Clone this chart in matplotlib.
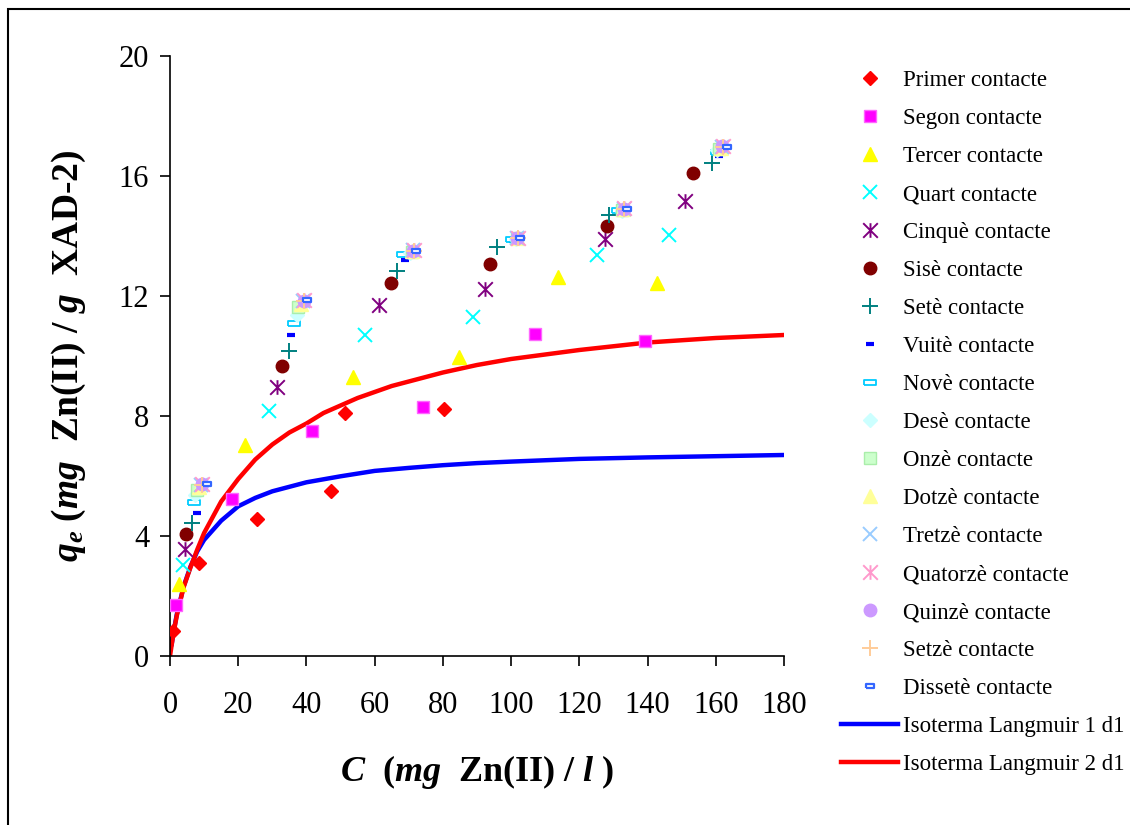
import matplotlib
matplotlib.use('Agg')
import matplotlib.pyplot as plt
from matplotlib.patches import Rectangle
from matplotlib.path import Path

plt.rcParams['font.family'] = ['Liberation Serif', 'DejaVu Serif']
plt.rcParams['mathtext.fontset'] = 'custom'
plt.rcParams['mathtext.rm'] = 'Liberation Serif'
plt.rcParams['mathtext.it'] = 'Liberation Serif:italic'
plt.rcParams['mathtext.bf'] = 'Liberation Serif:bold'
plt.rcParams['mathtext.bfit'] = 'Liberation Serif:italic:bold'

# punts experimentals (C en mg/l, q en mg/g)
primer_c = [0.8, 8.6, 25.5, 47.3, 51.4, 80.3]
primer_q = [0.84, 3.11, 4.58, 5.5, 8.09, 8.23]
segon_c = [1.8, 18.3, 41.7, 74.1, 107.0, 139.3]
segon_q = [1.69, 5.24, 7.51, 8.31, 10.73, 10.5]
tercer_c = [2.7, 22.0, 53.6, 84.8, 113.6, 142.9]
tercer_q = [2.4, 7.03, 9.31, 9.98, 12.62, 12.42]
quart_c = [3.9, 29.1, 57.3, 88.9, 125.3, 146.3]
quart_q = [3.02, 8.18, 10.7, 11.29, 13.37, 14.03]
cinque_c = [4.5, 31.5, 61.4, 92.4, 127.6, 151.1]
cinque_q = [3.56, 8.98, 11.7, 12.22, 13.91, 15.17]
sise_c = [4.7, 32.8, 64.7, 93.8, 128.1, 153.2]
sise_q = [4.07, 9.67, 12.42, 13.07, 14.33, 16.09]
sete_c = [6.4, 35.0, 66.6, 96.0, 128.8, 158.8]
sete_q = [4.42, 10.18, 12.84, 13.64, 14.7, 16.44]
vuite_c = [7.9, 35.4, 69.0, 100.5, 131.5, 160.8]
vuite_q = [4.76, 10.71, 13.19, 13.85, 14.85, 16.67]
nove_c = [6.9, 36.4, 68.4, 100.2, 131.2, 160.3]
nove_q = [5.12, 11.11, 13.39, 13.9, 14.87, 16.8]
dese_c = [7.4, 37.1, 70.5, 101.5, 132.5, 160.3]
dese_q = [5.37, 11.37, 13.45, 13.9, 14.85, 16.87]
onze_c = [8.0, 37.6, 70.8, 101.6, 132.6, 160.8]
onze_q = [5.53, 11.64, 13.48, 13.92, 14.88, 16.9]
dotze_c = [8.6, 38.3, 71.0, 101.7, 132.8, 161.5]
dotze_q = [5.62, 11.75, 13.5, 13.93, 14.9, 16.95]
tretze_c = [9.2, 39.0, 71.2, 101.8, 133.0, 161.8]
tretze_q = [5.7, 11.82, 13.52, 13.95, 14.9, 16.98]
quatorze_c = [9.4, 39.3, 71.4, 101.9, 133.1, 162.0]
quatorze_q = [5.75, 11.87, 13.53, 13.95, 14.92, 17.0]
quinze_c = [9.3, 39.2, 71.3, 101.8, 133.0, 161.7]
quinze_q = [5.72, 11.85, 13.5, 13.93, 14.9, 17.0]
setze_c = [9.5, 39.4, 71.5, 102.0, 133.2, 162.1]
setze_q = [5.7, 11.85, 13.5, 13.93, 14.9, 16.98]
dissete_c = [10.8, 40.1, 72.1, 102.6, 133.9, 163.2]
dissete_q = [5.72, 11.87, 13.51, 13.92, 14.89, 16.98]

# isotermes llegides del grafic
lang1_c = [0.5, 1, 2, 4, 6, 8, 10, 15, 20, 25, 30, 40, 50, 60, 70, 80, 90,
           100, 120, 140, 160, 180]
lang1_q = [0.4, 0.77, 1.39, 2.32, 2.98, 3.49, 3.87, 4.51, 4.99, 5.27, 5.49,
           5.79, 5.99, 6.17, 6.27, 6.36, 6.43, 6.48, 6.57, 6.62, 6.66, 6.7]
lang2_c = [0, 1, 2, 4, 6, 8, 10, 15, 20, 25, 30, 35, 40, 45, 50, 55, 60, 65,
           70, 80, 90, 100, 110, 120, 140, 160, 180]
lang2_q = [0, 0.75, 1.35, 2.3, 2.95, 3.55, 4.1, 5.15, 5.9, 6.55, 7.05, 7.45,
           7.75, 8.1, 8.35, 8.6, 8.8, 9.0, 9.15, 9.45, 9.7, 9.9, 10.05, 10.2,
           10.45, 10.6, 10.7]

labels = ['Primer contacte', 'Segon contacte', 'Tercer contacte', 'Quart contacte',
          'Cinquè contacte', 'Sisè contacte', 'Setè contacte', 'Vuitè contacte',
          'Novè contacte', 'Desè contacte', 'Onzè contacte', 'Dotzè contacte',
          'Tretzè contacte', 'Quatorzè contacte', 'Quinzè contacte',
          'Setzè contacte', 'Dissetè contacte']

# marcadors especials (estil Excel)
rect = Path([(-1, -0.45), (1, -0.45), (1, 0.45), (-1, 0.45), (-1, -0.45)])
aster = Path([(0, -1), (0, 1), (-1, -1), (1, 1), (-1, 1), (1, -1)],
             [Path.MOVETO, Path.LINETO] * 3)

series = [
    (primer_c, primer_q, dict(marker='D', color='red', ms=7.5)),
    (segon_c, segon_q, dict(marker='s', color='#FF00FF', ms=8.5, mec='#FF66FF')),
    (tercer_c, tercer_q, dict(marker='^', color='#FFFF00', ms=10)),
    (quart_c, quart_q, dict(marker='x', color='#00FFFF', ms=9.5, mew=1.4)),
    (cinque_c, cinque_q, dict(marker=aster, color='#800080', ms=10.5, mew=1.4)),
    (sise_c, sise_q, dict(marker='o', color='#800000', ms=9)),
    (sete_c, sete_q, dict(marker='+', color='#008080', ms=11, mew=1.4)),
    (vuite_c, vuite_q, dict(marker='_', color='#0000FF', ms=6, mew=3)),
    (nove_c, nove_q, dict(marker=rect, color='#00CCFF', mfc='white', ms=8, mew=1.3)),
    (dese_c, dese_q, dict(marker='D', color='#CCFFFF', ms=7.5)),
    (onze_c, onze_q, dict(marker='s', color='#CCFFCC', ms=8.5, mec='#AAEEAA')),
    (dotze_c, dotze_q, dict(marker='^', color='#FFFF99', ms=10)),
    (tretze_c, tretze_q, dict(marker='x', color='#99CCFF', ms=9.5, mew=1.4)),
    (quatorze_c, quatorze_q, dict(marker=aster, color='#FF99CC', ms=10.5, mew=1.4)),
    (quinze_c, quinze_q, dict(marker='o', color='#CC99FF', ms=9)),
    (setze_c, setze_q, dict(marker='+', color='#FFCC99', ms=11, mew=1.4)),
    (dissete_c, dissete_q, dict(marker=rect, color='#3366FF', mfc='white', ms=6, mew=1.6)),
]

fig = plt.figure(figsize=(11.3, 8.25), dpi=100)
ax = fig.add_axes([170 / 1130, 1 - 656 / 825, 614 / 1130, 600 / 825])

handles = []
for (c, q, st), lab in zip(series, labels):
    h, = ax.plot(c, q, linestyle='none', label=lab, zorder=3, **st)
    handles.append(h)

l1, = ax.plot(lang1_c, lang1_q, color='#0000FF', lw=3.2, zorder=2,
              label='Isoterma Langmuir 1 d1')
l2, = ax.plot(lang2_c, lang2_q, color='#FF0000', lw=3.2, zorder=2,
              label='Isoterma Langmuir 2 d1')
handles += [l1, l2]

ax.set_xlim(0, 180)
ax.set_ylim(0, 20)
ax.set_xticks(range(0, 181, 20))
ax.set_yticks(range(0, 21, 4))
ax.spines['top'].set_visible(False)
ax.spines['right'].set_visible(False)
for s in ['left', 'bottom']:
    ax.spines[s].set_linewidth(1.2)
ax.tick_params(direction='out', length=7, width=1.2, labelsize=22)
ax.tick_params(axis='x', pad=18)
ax.tick_params(axis='y', pad=8)

ax.set_xlabel(r'$\mathbfit{C}$  ($\mathbfit{mg}$  Zn(II) / $\mathbfit{l}$ )',
              fontsize=26, fontweight='bold', labelpad=24)
ax.set_ylabel(r'$\mathbfit{q}_{\mathbfit{e}}$ ($\mathbfit{mg}$  Zn(II) / $\mathbfit{g}$  XAD-2)',
              fontsize=27, fontweight='bold', labelpad=22)

fig.legend(handles=handles, loc='upper left', bbox_to_anchor=(832 / 1130, 1 - 61 / 825),
           frameon=False, fontsize=16.5, numpoints=1, handlelength=2.5,
           handletextpad=0.2, labelspacing=0.74, borderaxespad=0)

# marc exterior
fig.patches.append(Rectangle((8 / 1130, -0.05), 1.2, 1 - 9 / 825 + 0.05,
                             transform=fig.transFigure, fill=False,
                             edgecolor='black', lw=1.5, clip_on=False))

fig.savefig('out.png', dpi=100)
